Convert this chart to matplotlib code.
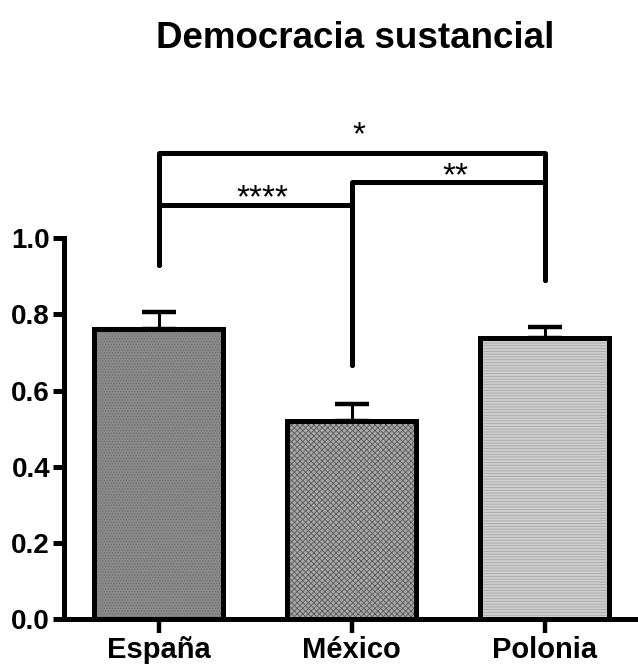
import matplotlib
matplotlib.use("Agg")
from matplotlib import pyplot as plt

plt.rcParams['font.family'] = ['Liberation Sans', 'DejaVu Sans']
plt.rcParams['hatch.linewidth'] = 0.6

# medias y error estandar por pais
paises = ["España", "México", "Polonia"]
medias = [0.761, 0.520, 0.738]
errores = [0.045, 0.044, 0.028]

# comparaciones: (i, j, altura, pata_i, pata_j, etiqueta, base del texto)
comparaciones = [
    (0, 1, 1.087, 0.929, 0.666, "****", 1.082),
    (1, 2, 1.147, 0.666, 0.889, "**", 1.138),
    (0, 2, 1.224, 0.929, 0.889, "*", 1.246),
]

rellenos = ['#8a8a8a', '#a8a8a8', '#cfcfcf']
tramas = ['......', 'xxxxxx', '------']
colores_trama = ['#6e6e6e', '#5a5a5a', '#a8a8a8']

fig = plt.figure(figsize=(6.38, 6.65), dpi=100)
ax = fig.add_axes([64 / 638, 46 / 665, 574 / 638, 495 / 665])

x = list(range(len(paises)))
for i in x:
    b = ax.bar(i, medias[i], width=0.668, color=rellenos[i], edgecolor='black',
               linewidth=3.6, hatch=tramas[i], zorder=2)
    b[0]._hatch_color = matplotlib.colors.to_rgba(colores_trama[i])
    ax.errorbar(i, medias[i], yerr=[[0], [errores[i]]], fmt='none', ecolor='black',
                elinewidth=2.2, capsize=12, capthick=3.2, zorder=1)

for i, j, h, pi, pj, txt, yt in comparaciones:
    ax.plot([i, i, j, j], [pi, h, h, pj], color='black', linewidth=3.6,
            solid_joinstyle='round', solid_capstyle='round', clip_on=False, zorder=3)
    ax.text((i + j) / 2 + 0.04, yt, txt, ha='center', va='baseline', fontsize=24)

ax.set_xlim(-0.49, 2.484)
ax.set_ylim(0, 1.3)
ax.set_yticks([0.0, 0.2, 0.4, 0.6, 0.8, 1.0])
ax.set_yticklabels(["0.0", "0.2", "0.4", "0.6", "0.8", "1.0"], fontsize=20, fontweight='bold')
ax.set_xticks(x)
ax.set_xticklabels(paises, fontsize=21, fontweight='bold')

ax.spines['top'].set_visible(False)
ax.spines['right'].set_visible(False)
ax.spines['left'].set_bounds(0, 1.0)
ax.spines['left'].set_linewidth(3.6)
ax.spines['bottom'].set_linewidth(3.6)
ax.tick_params(axis='y', length=8, width=3.6, pad=2)
ax.tick_params(axis='x', length=10, width=3.2, pad=2)

fig.text(355 / 638, 1 - 38 / 665, "Democracia sustancial", ha='center', va='center',
         fontsize=26.5, fontweight='bold')

fig.savefig("out.png", dpi=100)
